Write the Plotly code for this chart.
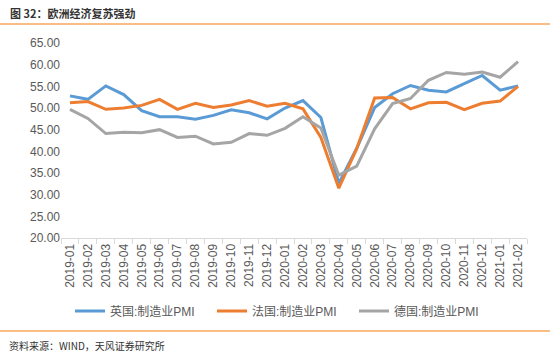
import plotly.graph_objects as go

months = ["2019-01","2019-02","2019-03","2019-04","2019-05","2019-06","2019-07","2019-08",
          "2019-09","2019-10","2019-11","2019-12","2020-01","2020-02","2020-03","2020-04",
          "2020-05","2020-06","2020-07","2020-08","2020-09","2020-10","2020-11","2020-12",
          "2021-01","2021-02"]
uk = [52.8, 52.0, 55.1, 53.1, 49.4, 48.0, 48.0, 47.4, 48.3, 49.6, 48.9, 47.5,
      50.0, 51.7, 47.8, 32.6, 40.7, 50.1, 53.3, 55.2, 54.1, 53.7, 55.6, 57.5, 54.1, 55.1]
fr = [51.2, 51.5, 49.7, 50.0, 50.6, 52.0, 49.7, 51.1, 50.1, 50.7, 51.7, 50.4,
      51.1, 49.8, 43.2, 31.5, 40.6, 52.3, 52.4, 49.8, 51.2, 51.3, 49.6, 51.1, 51.6, 55.0]
de = [49.7, 47.6, 44.1, 44.4, 44.3, 45.0, 43.2, 43.5, 41.7, 42.1, 44.1, 43.7,
      45.3, 48.0, 45.4, 34.5, 36.6, 45.2, 51.0, 52.2, 56.4, 58.2, 57.8, 58.3, 57.1, 60.7]
names = ["英国:制造业PMI", "法国:制造业PMI", "德国:制造业PMI"]
colors = ["#5B9BD5", "#ED7D31", "#A5A5A5"]

FONT = "Liberation Sans, Arial, Noto Sans CJK SC"

fig = go.Figure()
for name, vals, c in zip(names, [uk, fr, de], colors):
    fig.add_trace(go.Scatter(x=months, y=vals, name=name, mode="lines",
                             line=dict(color=c, width=3)))

W, H = 550, 355
L, R, T, B = 61, 23, 43, 117
pw, ph = W - L - R, H - T - B

def px_x(x):
    return (x - L) / pw

def px_y(y):
    return (H - B - y) / ph

fig.update_layout(
    width=W, height=H,
    margin=dict(l=L, r=R, t=T, b=B),
    plot_bgcolor="white", paper_bgcolor="white",
    font=dict(family=FONT, size=12, color="#595959"),
    showlegend=True,
    legend=dict(orientation="h", x=px_x(70), y=px_y(311), xanchor="left", yanchor="middle",
                font=dict(size=12, color="#595959"), entrywidth=97, entrywidthmode="pixels",
                itemwidth=30, bgcolor="rgba(0,0,0,0)"),
    xaxis=dict(type="category", range=[-0.5, 25.5], tickangle=-90,
               showline=True, linecolor="#D9D9D9", linewidth=1,
               ticks="outside", ticklen=5, tickcolor="#D9D9D9", tickson="boundaries",
               showgrid=False, tickfont=dict(size=12, color="#595959")),
    yaxis=dict(range=[20, 65], dtick=5, tickformat=".2f", showgrid=False,
               showline=False, zeroline=False, ticks="",
               tickfont=dict(size=12, color="#595959")),
    shapes=[
        dict(type="line", xref="paper", yref="paper", x0=px_x(0), x1=px_x(W),
             y0=px_y(24), y1=px_y(24), line=dict(color="#F8BE85", width=2)),
        dict(type="line", xref="paper", yref="paper", x0=px_x(0), x1=px_x(W),
             y0=px_y(331), y1=px_y(331), line=dict(color="#F8BE85", width=2)),
    ],
    annotations=[
        dict(text="<b>图 32：欧洲经济复苏强劲</b>", xref="paper", yref="paper",
             x=px_x(8), y=px_y(13), xanchor="left", yanchor="middle", showarrow=False,
             font=dict(size=11, color="#333333", family="Noto Sans CJK SC")),
        dict(text="资料来源：WIND，天风证券研究所", xref="paper", yref="paper",
             x=px_x(7), y=px_y(345), xanchor="left", yanchor="middle", showarrow=False,
             font=dict(size=10, color="#333333", family="Noto Sans CJK SC")),
    ],
)

fig.write_html("out.html", config={"displayModeBar": False},
               post_script="document.body.style.margin='0';document.body.style.overflow='hidden';")
